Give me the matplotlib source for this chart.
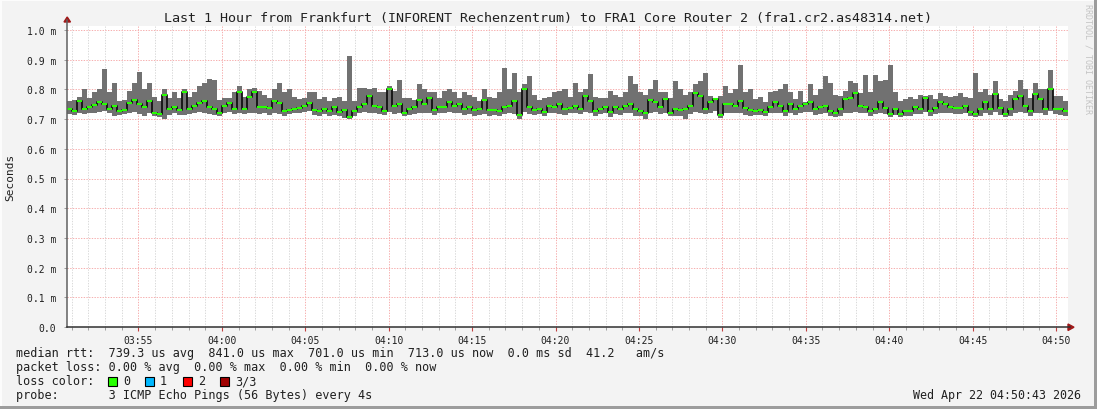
import matplotlib
matplotlib.use("Agg")
import matplotlib.pyplot as plt
import numpy as np
from matplotlib.patches import Rectangle, Polygon
from matplotlib.lines import Line2D

# ---------------- data (RTT in microseconds, 200 samples over the hour) ----------------
med1 = [735,728,760,735,740,748,758,752,735,745,728,730,755,765,750,742,760,722,718,780,735,740,730,790,735,745,755,760,740,735,722,745,755,735,790,735,775,790,740,742,738,760,755,728,732,735,738,745,755,730]
hi1 = [760,765,775,800,770,790,800,870,790,820,760,765,795,820,858,800,822,775,760,800,770,790,770,800,775,790,810,822,835,830,765,770,770,790,812,775,800,805,795,780,770,800,822,790,800,775,768,770,790,790]
lo1 = [718,715,720,718,722,722,725,728,720,712,715,718,722,725,718,712,722,712,708,700,715,722,715,715,718,720,725,722,718,715,712,720,725,718,722,718,720,722,718,722,715,722,718,712,718,720,722,725,728,715]

med2 = [728,733,728,740,725,730,708,728,740,750,778,745,740,728,800,745,752,722,735,740,765,750,772,730,740,742,758,745,752,735,740,730,735,765,730,732,728,740,745,760,715,800,740,730,735,725,745,742,750,735]
hi2 = [767,775,760,770,775,760,913,760,806,806,800,806,790,790,811,795,833,770,772,765,817,800,790,790,770,795,800,790,770,790,780,775,760,800,775,770,790,872,800,856,790,817,845,780,765,770,775,790,795,800]
lo2 = [710,718,712,715,712,705,700,712,722,725,722,720,718,715,725,718,722,712,715,718,722,722,722,715,722,722,725,720,720,715,718,712,715,718,712,715,712,718,722,718,700,725,718,715,718,712,720,722,718,715]

med3 = [739,745,735,778,760,728,735,740,725,740,735,745,750,733,728,722,765,756,740,767,722,733,730,733,745,789,778,735,756,767,715,752,750,745,760,738,730,728,730,725,740,756,745,728,752,733,745,750,756,733]
hi3 = [775,822,790,800,853,775,770,772,795,780,775,790,844,817,790,780,800,833,790,790,770,828,800,780,790,817,828,855,778,772,778,811,789,800,883,790,800,767,775,756,790,794,800,817,790,767,794,756,817,780]
lo3 = [720,722,718,725,722,712,718,720,706,718,715,720,722,712,712,700,722,725,718,722,712,712,712,700,718,725,722,718,722,728,705,722,722,720,722,715,712,715,715,712,720,722,720,712,722,715,720,725,725,715]

med4 = [740,745,728,722,735,767,772,789,745,740,728,733,756,739,717,733,717,728,728,740,735,772,728,739,756,750,742,739,739,745,725,717,733,756,733,783,739,717,733,767,778,745,728,783,767,733,800,733,733,728]
hi4 = [800,844,822,780,778,794,828,822,789,850,790,850,828,833,883,790,760,767,775,767,780,778,780,767,789,778,775,778,789,775,770,855,790,800,780,828,767,760,780,794,833,800,770,822,800,800,867,778,778,760]
lo4 = [718,722,712,708,712,722,722,725,722,720,712,718,722,718,706,715,706,712,712,718,718,725,712,718,722,722,720,718,718,720,712,706,712,722,715,725,715,706,712,722,725,720,712,722,722,715,728,718,715,712]

title = "Last 1 Hour from Frankfurt (INFORENT Rechenzentrum) to FRA1 Core Router 2 (fra1.cr2.as48314.net)"
y_ticks = [0.0, 0.1, 0.2, 0.3, 0.4, 0.5, 0.6, 0.7, 0.8, 0.9, 1.0]
x_tick_labels = ["03:55", "04:00", "04:05", "04:10", "04:15", "04:20", "04:25",
                 "04:30", "04:35", "04:40", "04:45", "04:50"]
legend_lines = [
    "median rtt:  739.3 us avg  841.0 us max  701.0 us min  713.0 us now  0.0 ms sd  41.2   am/s",
    "packet loss: 0.00 % avg  0.00 % max  0.00 % min  0.00 % now",
]
loss_labels = ["0", "1", "2", "3/3"]
loss_colors = ["#26ff00", "#00b8ff", "#ff0000", "#a00000"]
probe_text = "probe:       3 ICMP Echo Pings (56 Bytes) every 4s"
date_text = "Wed Apr 22 04:50:43 2026"

# ---------------- figure ----------------
W, H = 1097, 410
DPI = 100
plt.rcParams['font.family'] = ['DejaVu Sans Mono']
fig = plt.figure(figsize=(W / DPI, H / DPI), dpi=DPI, facecolor="#f3f3f3")

def fx(px):
    return px / W

def fy(py):
    return 1 - py / H

# plot area in pixels
L, R, T, B = 67, 1068, 27, 328
ax = fig.add_axes([fx(L), fy(B), fx(R) - fx(L), fy(T) - fy(B)])
ax.set_facecolor("white")

med = np.array(med1 + med2 + med3 + med4) / 1000.0
hi = np.array(hi1 + hi2 + hi3 + hi4) / 1000.0
lo = np.array(lo1 + lo2 + lo3 + lo4) / 1000.0
n = len(med)

t_start = 3 * 3600 + 50 * 60 + 43
t_end = t_start + 3600
edges = np.linspace(t_start, t_end, n + 1)

y_top = 1.0 + (31 - T) / (B - 31)
ax.set_xlim(t_start, t_end)
ax.set_ylim(0, y_top)

# grid
grid_ls = (0, (1.35, 1.35))
for m in range(3 * 60 + 51, 4 * 60 + 51):
    t = m * 60
    if t <= t_start or t >= t_end:
        continue
    if m % 5 == 0:
        ax.axvline(t, color="#f6b0b0", lw=0.72, ls=grid_ls, zorder=1)
    else:
        ax.axvline(t, color="#dadada", lw=0.72, ls=grid_ls, zorder=1)
for v in y_ticks[1:]:
    ax.axhline(v, color="#f6b0b0", lw=0.72, ls=grid_ls, zorder=1)

# smoke band
hi_s = np.append(hi, hi[-1])
lo_s = np.append(lo, lo[-1])
ax.fill_between(edges, lo_s, hi_s, step="post", color="#717171", lw=0, zorder=2)

# median: black step line + green segments (loss 0)
med_s = np.append(med, med[-1])
ax.step(edges, med_s, where="post", color="#111111", lw=1.3, zorder=3)
ax.hlines(med, edges[:-1], edges[1:], colors=loss_colors[0], lw=1.5, zorder=4)

# ticks
major_t = [(3 * 60 + 55 + 5 * i) * 60 for i in range(len(x_tick_labels))]
ax.set_xticks(major_t)
ax.set_xticklabels(x_tick_labels)
minor_t = [m * 60 for m in range(3 * 60 + 51, 4 * 60 + 51) if m % 5 != 0]
ax.set_xticks(minor_t, minor=True)
ax.set_yticks(y_ticks)
ax.set_yticklabels(["0.0" if v == 0 else f"{v:.1f} m" for v in y_ticks])
ax.tick_params(axis="x", which="major", length=3, width=0.8, color="#c04040",
               labelsize=7, pad=3, labelcolor="#202020")
ax.tick_params(axis="x", which="minor", length=2, width=0.6, color="#909090")
ax.tick_params(axis="y", length=2, width=0.6, color="#909090", labelsize=7,
               pad=6, labelcolor="#202020")

for s in ["top", "right", "left", "bottom"]:
    ax.spines[s].set_visible(False)

# axis lines and arrows
fig.add_artist(Line2D([fx(L), fx(L)], [fy(B), fy(21)], color="#606060", lw=1.1))
fig.add_artist(Line2D([fx(L), fx(1070)], [fy(B), fy(B)], color="#303030", lw=1.1))
fig.add_artist(Polygon([[fx(64), fy(23)], [fx(70.5), fy(23)], [fx(67.2), fy(18)]],
                       closed=True, transform=fig.transFigure, color="#a01818"))
fig.add_artist(Polygon([[fx(1068), fy(325)], [fx(1068), fy(331.5)], [fx(1074), fy(328.2)]],
                       closed=True, transform=fig.transFigure, color="#a01818"))

# labels
fig.text(fx(548), fy(18.5), title, ha="center", va="center", fontsize=9.6, color="#202020")
fig.text(fx(10.5), fy(177), "Seconds", rotation=90, ha="center", va="center",
         fontsize=8, color="#202020")
fig.text(fx(1088), fy(4), "RRDTOOL / TOBI OETIKER", rotation=270, ha="center", va="top",
         fontsize=6, color="#c4c4c4")

legend_y = [354, 368]
for yy, txt in zip(legend_y, legend_lines):
    fig.text(fx(16), fy(yy), txt, ha="left", va="center", fontsize=8.5, color="#202020")
fig.text(fx(16), fy(382), "loss color:", ha="left", va="center", fontsize=8.5, color="#202020")
box_x = [108, 145, 183, 220]
for bx, lab, col in zip(box_x, loss_labels, loss_colors):
    fig.add_artist(Rectangle((fx(bx), fy(386.5)), fx(9), 9 / H, transform=fig.transFigure,
                             facecolor=col, edgecolor="black", lw=0.8))
    fig.text(fx(bx + 15), fy(382), lab, ha="left", va="center", fontsize=8.5, color="#202020")
fig.text(fx(16), fy(396), probe_text, ha="left", va="center", fontsize=8.5, color="#202020")
fig.text(fx(1081), fy(396), date_text, ha="right", va="center", fontsize=8.4, color="#202020")

# 3D border of the canvas
fig.add_artist(Rectangle((0, 0), fx(2), 1, transform=fig.transFigure, color="#fcfcfc", lw=0))
fig.add_artist(Rectangle((0, fy(2)), 1, 2 / H, transform=fig.transFigure, color="#fcfcfc", lw=0))
fig.add_artist(Rectangle((fx(1094), 0), fx(3), 1, transform=fig.transFigure, color="#9c9c9c", lw=0))
fig.add_artist(Rectangle((0, 0), 1, 3 / H, transform=fig.transFigure, color="#9c9c9c", lw=0))

fig.savefig("out.png", dpi=DPI, facecolor=fig.get_facecolor())
